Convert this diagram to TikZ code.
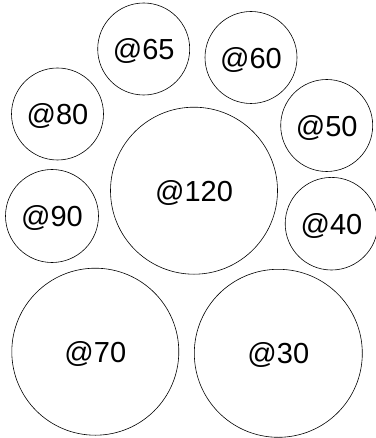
\documentclass[tikz,border=0pt]{standalone}
\usepackage{fontspec}
\setmainfont{Liberation Sans}
\usepackage{tikz}

\begin{document}
\begin{tikzpicture}[
  x=1pt, y=-1pt,
  bubble/.style={draw=black, circle, line width=0.6pt, inner sep=0pt,
                 font=\fontsize{29}{33}\selectfont},
  label text/.style={inner sep=0pt, font=\fontsize{29}{33}\selectfont, yshift=-2pt}
]
\useasboundingbox (0,0) rectangle (375,438);
\node[bubble, minimum size=92pt] (at65) at (143.7,49) {};
\node[bubble, minimum size=92pt] (at60) at (251,57.5) {};
\node[bubble, minimum size=92pt] (at80) at (57.5,114) {};
\node[bubble, minimum size=92pt] (at50) at (326.7,125.5) {};
\node[bubble, minimum size=167pt] (at120) at (194,190.7) {};
\node[bubble, minimum size=93pt] (at90) at (52,216) {};
\node[bubble, minimum size=92.6pt] (at40) at (331.5,223.7) {};
\node[bubble, minimum size=167pt] (at70) at (95.3,351.7) {};
\node[bubble, minimum size=168pt] (at30) at (278.3,353.3) {};
% labels
\node[label text] (t65) at (at65) {@65};
\node[label text] (t60) at (at60) {@60};
\node[label text] (t80) at (at80) {@80};
\node[label text] (t50) at (at50) {@50};
\node[label text] (t120) at (at120) {@120};
\node[label text] (t90) at (at90) {@90};
\node[label text] (t40) at (at40) {@40};
\node[label text] (t70) at (at70) {@70};
\node[label text] (t30) at (at30) {@30};
\end{tikzpicture}
\end{document}
